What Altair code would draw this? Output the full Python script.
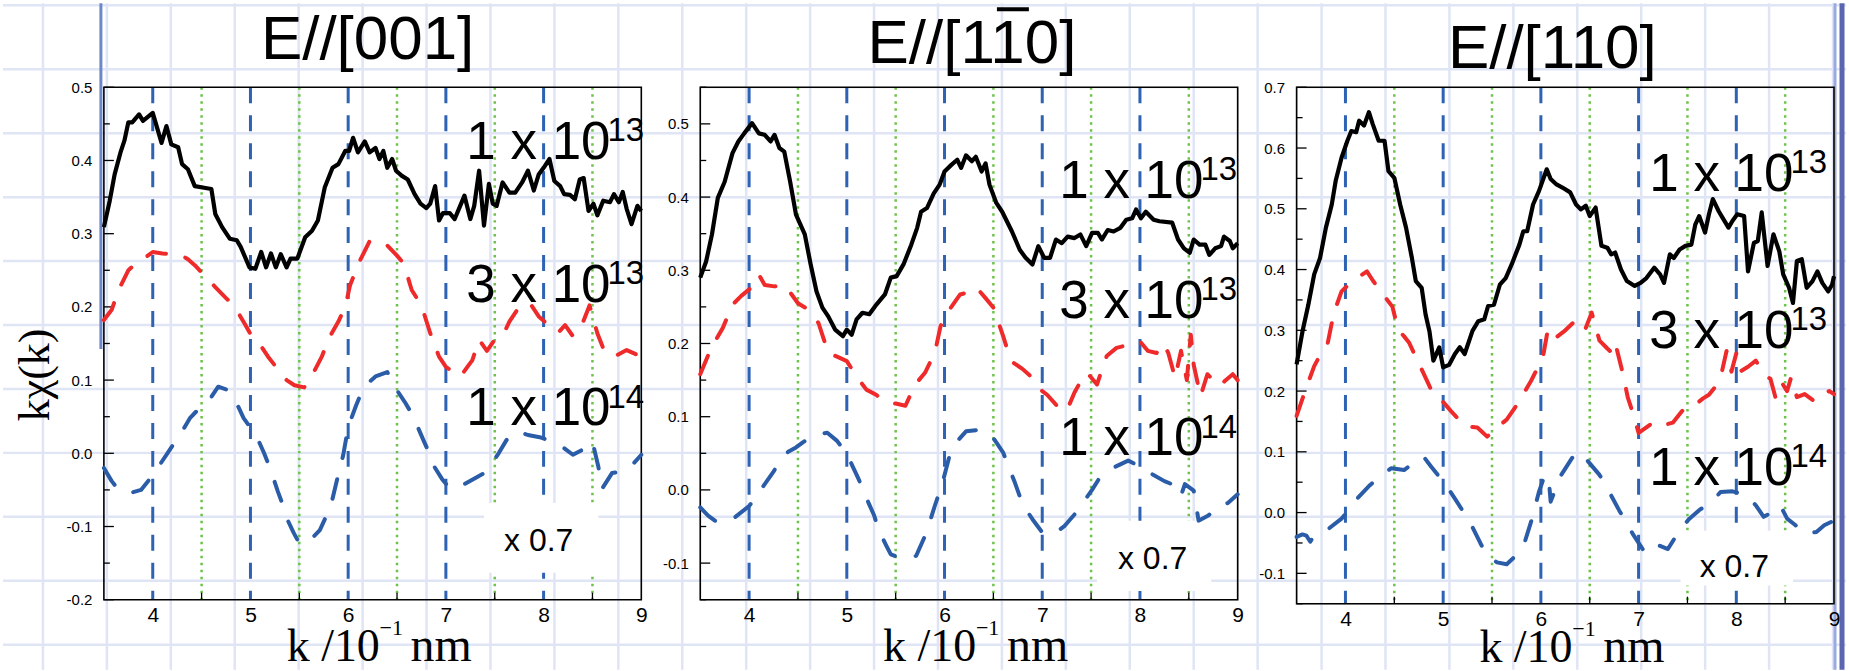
import altair as alt
import pandas as pd

# ------------------------------------------------------------------ traces
# (k / 10^-1 nm, k*chi(k)); black = 1 x 10^13, red = 3 x 10^13, blue = 1 x 10^14 (scaled x 0.7)
BLACK_001 = [(3.50,0.309),(3.56,0.345),(3.61,0.381),(3.67,0.411),(3.71,0.427),(3.75,0.452),(3.79,0.452),(3.86,0.463),(3.90,0.454),(4.00,0.465),
             (4.09,0.424),(4.14,0.447),(4.19,0.422),(4.26,0.418),(4.30,0.395),(4.36,0.388),(4.43,0.365),(4.51,0.363),(4.60,0.361),(4.64,0.327),
             (4.71,0.309),(4.79,0.293),(4.86,0.291),(4.90,0.282),(4.99,0.254),(5.05,0.252),(5.11,0.275),(5.16,0.254),(5.21,0.273),(5.26,0.254),
             (5.31,0.272),(5.37,0.254),(5.41,0.266),(5.48,0.266),(5.56,0.295),(5.63,0.304),(5.69,0.318),(5.76,0.363),(5.84,0.390),(5.90,0.395),
             (5.97,0.413),(6.01,0.413),(6.05,0.431),(6.10,0.411),(6.17,0.426),(6.22,0.411),(6.28,0.417),(6.32,0.402),(6.36,0.413),(6.40,0.390),
             (6.45,0.402),(6.49,0.386),(6.55,0.379),(6.61,0.374),(6.68,0.354),(6.74,0.341),(6.80,0.335),(6.84,0.341),(6.89,0.365),(6.93,0.318),
             (6.97,0.328),(7.04,0.328),(7.09,0.320),(7.14,0.336),(7.19,0.352),(7.25,0.320),(7.29,0.338),(7.34,0.386),(7.39,0.311),(7.44,0.368),
             (7.48,0.341),(7.52,0.338),(7.58,0.370),(7.65,0.356),(7.71,0.356),(7.78,0.370),(7.84,0.386),(7.90,0.359),(7.95,0.381),(8.00,0.390),
             (8.06,0.402),(8.11,0.372),(8.17,0.365),(8.21,0.354),(8.27,0.353),(8.32,0.347),(8.37,0.374),(8.41,0.376),(8.46,0.331),(8.51,0.341),
             (8.55,0.325),(8.61,0.345),(8.68,0.343),(8.72,0.354),(8.77,0.343),(8.81,0.357),(8.85,0.334),(8.90,0.313),(8.96,0.338),(9.00,0.331)]
RED_001 = [(3.50,0.182),(3.58,0.196),(3.65,0.223),(3.75,0.250),(3.85,0.262),(3.91,0.266),(4.00,0.275),(4.10,0.273),(4.20,0.272),(4.30,0.270),
           (4.36,0.265),(4.43,0.257),(4.55,0.240),(4.64,0.227),(4.75,0.212),(4.83,0.202),(4.95,0.175),(5.00,0.163),(5.10,0.148),(5.18,0.132),
           (5.25,0.120),(5.37,0.100),(5.45,0.093),(5.55,0.090),(5.66,0.114),(5.73,0.132),(5.81,0.159),(5.90,0.180),(5.97,0.200),(6.02,0.230),
           (6.12,0.263),(6.22,0.290),(6.30,0.290),(6.40,0.284),(6.50,0.270),(6.57,0.259),(6.65,0.223),(6.75,0.202),(6.84,0.164),(6.93,0.132),
           (7.00,0.118),(7.08,0.111),(7.15,0.105),(7.22,0.118),(7.27,0.127),(7.34,0.155),(7.42,0.140),(7.50,0.155),(7.58,0.160),(7.65,0.180),
           (7.75,0.200),(7.86,0.205),(7.95,0.187),(8.05,0.175),(8.15,0.165),(8.22,0.175),(8.30,0.160),(8.40,0.178),(8.47,0.202),(8.55,0.164),
           (8.62,0.140),(8.72,0.132),(8.85,0.141),(9.00,0.132)]
BLUE_001 = [(3.50,-0.020),(3.58,-0.038),(3.65,-0.050),(3.75,-0.055),(3.88,-0.050),(3.97,-0.035),(4.06,-0.018),(4.15,0.000),(4.23,0.016),(4.31,0.032),
            (4.38,0.048),(4.48,0.062),(4.59,0.075),(4.67,0.091),(4.78,0.086),(4.86,0.068),(4.93,0.048),(5.00,0.035),(5.08,0.018),(5.14,0.000),
            (5.20,-0.020),(5.28,-0.052),(5.33,-0.070),(5.38,-0.091),(5.44,-0.108),(5.50,-0.123),(5.60,-0.120),(5.71,-0.105),(5.82,-0.073),(5.89,-0.034),
            (5.95,-0.002),(6.00,0.036),(6.08,0.065),(6.16,0.091),(6.28,0.105),(6.40,0.111),(6.50,0.086),(6.58,0.070),(6.66,0.052),(6.77,0.018),
            (6.83,0.000),(6.88,-0.018),(6.96,-0.035),(7.04,-0.048),(7.15,-0.045),(7.27,-0.036),(7.38,-0.028),(7.46,-0.016),(7.54,0.000),(7.62,0.018),
            (7.74,0.030),(7.84,0.025),(7.96,0.022),(8.09,0.016),(8.20,0.008),(8.30,-0.002),(8.40,0.005),(8.50,0.016),(8.56,-0.018),(8.60,-0.048),
            (8.70,-0.027),(8.80,-0.025),(8.92,-0.014),(9.00,-0.002)]

BLACK_1B10 = [(3.50,0.290),(3.56,0.312),(3.62,0.349),(3.68,0.399),(3.75,0.421),(3.83,0.460),(3.89,0.476),(3.95,0.487),(4.03,0.501),(4.10,0.487),
              (4.16,0.485),(4.22,0.476),(4.26,0.485),(4.31,0.467),(4.36,0.462),(4.42,0.421),(4.48,0.376),(4.57,0.349),(4.63,0.308),(4.69,0.271),
              (4.75,0.249),(4.81,0.237),(4.88,0.219),(4.96,0.210),(5.00,0.219),(5.05,0.212),(5.10,0.233),(5.16,0.242),(5.23,0.240),(5.29,0.251),
              (5.39,0.267),(5.45,0.290),(5.51,0.292),(5.58,0.308),(5.66,0.335),(5.72,0.358),(5.76,0.380),(5.82,0.385),(5.89,0.405),(5.95,0.417),
              (6.00,0.435),(6.07,0.444),(6.13,0.451),(6.17,0.440),(6.22,0.457),(6.28,0.449),(6.32,0.455),(6.38,0.435),(6.42,0.446),(6.46,0.417),
              (6.53,0.392),(6.59,0.380),(6.69,0.353),(6.77,0.328),(6.83,0.317),(6.90,0.308),(6.96,0.333),(7.02,0.317),(7.08,0.317),(7.14,0.342),
              (7.20,0.337),(7.26,0.346),(7.33,0.344),(7.39,0.349),(7.45,0.333),(7.51,0.351),(7.57,0.351),(7.61,0.342),(7.67,0.355),(7.73,0.353),
              (7.80,0.358),(7.86,0.369),(7.92,0.371),(7.96,0.383),(8.01,0.371),(8.06,0.380),(8.14,0.369),(8.20,0.367),(8.33,0.365),(8.39,0.342),
              (8.45,0.330),(8.51,0.324),(8.55,0.342),(8.61,0.335),(8.67,0.335),(8.71,0.321),(8.77,0.330),(8.83,0.333),(8.86,0.346),(8.92,0.340),
              (8.95,0.330),(9.00,0.337)]
RED_1B10 = [(3.50,0.158),(3.60,0.190),(3.66,0.205),(3.73,0.221),(3.83,0.253),(3.92,0.265),(4.02,0.276),(4.10,0.294),(4.16,0.280),(4.26,0.278),
            (4.36,0.280),(4.43,0.268),(4.50,0.255),(4.61,0.246),(4.71,0.228),(4.81,0.187),(4.90,0.182),(5.00,0.176),(5.10,0.155),(5.20,0.137),
            (5.30,0.130),(5.38,0.121),(5.50,0.118),(5.60,0.115),(5.70,0.144),(5.80,0.160),(5.90,0.187),(5.96,0.224),(6.06,0.248),(6.16,0.267),
            (6.25,0.270),(6.33,0.276),(6.42,0.262),(6.50,0.249),(6.60,0.210),(6.68,0.176),(6.80,0.165),(6.90,0.153),(7.00,0.135),(7.05,0.130),
            (7.15,0.115),(7.25,0.108),(7.33,0.133),(7.40,0.150),(7.46,0.160),(7.56,0.144),(7.66,0.183),(7.76,0.194),(7.88,0.198),(8.00,0.203),
            (8.08,0.190),(8.17,0.187),(8.24,0.200),(8.29,0.187),(8.36,0.153),(8.42,0.190),(8.48,0.150),(8.52,0.212),(8.55,0.171),(8.62,0.128),
            (8.69,0.158),(8.75,0.150),(8.81,0.142),(8.88,0.150),(8.95,0.158),(9.00,0.150)]
BLUE_1B10 = [(3.50,-0.024),(3.58,-0.035),(3.65,-0.042),(3.73,-0.045),(3.85,-0.038),(4.00,-0.022),(4.08,-0.008),(4.16,0.008),(4.25,0.025),(4.33,0.042),
             (4.40,0.052),(4.48,0.058),(4.55,0.065),(4.67,0.075),(4.80,0.078),(4.90,0.067),(4.98,0.053),(5.05,0.035),(5.12,0.015),(5.22,-0.017),
             (5.28,-0.035),(5.33,-0.056),(5.40,-0.075),(5.45,-0.088),(5.58,-0.095),(5.71,-0.090),(5.81,-0.060),(5.90,-0.022),(5.98,0.010),(6.06,0.051),
             (6.14,0.068),(6.22,0.080),(6.35,0.082),(6.46,0.078),(6.53,0.065),(6.60,0.051),(6.72,0.010),(6.80,-0.020),(6.90,-0.040),(7.00,-0.058),
             (7.12,-0.060),(7.23,-0.049),(7.34,-0.032),(7.44,-0.013),(7.51,0.000),(7.58,0.015),(7.72,0.030),(7.88,0.040),(8.00,0.032),(8.13,0.021),
             (8.25,0.012),(8.38,0.005),(8.42,-0.008),(8.46,0.008),(8.55,-0.001),(8.60,-0.042),(8.70,-0.035),(8.82,-0.020),(8.90,-0.018),(9.00,-0.006)]

BLACK_110 = [(3.50,0.244),(3.56,0.298),(3.62,0.342),(3.68,0.392),(3.74,0.419),(3.80,0.469),(3.86,0.507),(3.90,0.546),(3.96,0.584),(4.02,0.612),
             (4.06,0.628),(4.11,0.626),(4.14,0.645),(4.19,0.637),(4.24,0.659),(4.28,0.639),(4.34,0.612),(4.40,0.612),(4.44,0.562),(4.50,0.551),
             (4.56,0.507),(4.62,0.469),(4.68,0.419),(4.72,0.381),(4.78,0.370),(4.82,0.326),(4.86,0.298),(4.90,0.250),(4.96,0.272),(5.00,0.239),
             (5.06,0.243),(5.12,0.261),(5.17,0.272),(5.22,0.261),(5.30,0.299),(5.36,0.315),(5.42,0.318),(5.46,0.340),(5.52,0.342),(5.58,0.375),
             (5.64,0.386),(5.70,0.408),(5.78,0.441),(5.82,0.463),(5.86,0.463),(5.92,0.507),(5.98,0.529),(6.06,0.565),(6.10,0.549),(6.16,0.540),
             (6.22,0.535),(6.30,0.527),(6.36,0.507),(6.41,0.499),(6.46,0.505),(6.50,0.488),(6.56,0.502),(6.62,0.439),(6.68,0.436),(6.72,0.425),
             (6.76,0.428),(6.82,0.400),(6.88,0.381),(6.96,0.373),(7.02,0.378),(7.08,0.386),(7.16,0.403),(7.22,0.392),(7.26,0.378),(7.32,0.425),
             (7.36,0.419),(7.42,0.433),(7.48,0.439),(7.54,0.441),(7.58,0.474),(7.62,0.488),(7.68,0.461),(7.72,0.491),(7.76,0.516),(7.82,0.496),
             (7.86,0.485),(7.92,0.469),(7.96,0.480),(8.01,0.491),(8.08,0.488),(8.12,0.397),(8.18,0.444),(8.22,0.447),(8.26,0.494),(8.32,0.406),
             (8.38,0.458),(8.44,0.430),(8.48,0.392),(8.54,0.370),(8.58,0.345),(8.62,0.414),(8.67,0.417),(8.72,0.370),(8.78,0.381),(8.83,0.397),
             (8.88,0.378),(8.94,0.364),(8.98,0.375),(9.00,0.389)]
RED_110 = [(3.50,0.159),(3.58,0.197),(3.68,0.241),(3.75,0.262),(3.82,0.280),(3.88,0.328),(3.96,0.364),(4.05,0.378),(4.12,0.386),(4.22,0.397),
           (4.28,0.382),(4.38,0.360),(4.48,0.339),(4.54,0.301),(4.60,0.290),(4.65,0.280),(4.77,0.239),(4.84,0.215),(4.90,0.194),(5.00,0.182),
           (5.08,0.167),(5.15,0.155),(5.22,0.142),(5.35,0.140),(5.45,0.125),(5.55,0.140),(5.65,0.153),(5.77,0.181),(5.90,0.217),(6.02,0.255),
           (6.07,0.300),(6.13,0.285),(6.25,0.300),(6.38,0.320),(6.46,0.304),(6.52,0.329),(6.60,0.283),(6.68,0.270),(6.72,0.264),(6.76,0.280),
           (6.84,0.228),(6.89,0.189),(6.95,0.160),(7.00,0.131),(7.12,0.145),(7.20,0.139),(7.28,0.145),(7.35,0.148),(7.46,0.170),(7.56,0.175),
           (7.66,0.188),(7.72,0.194),(7.78,0.206),(7.85,0.230),(7.90,0.266),(7.95,0.232),(8.00,0.262),(8.04,0.232),(8.12,0.240),(8.20,0.250),
           (8.28,0.228),(8.35,0.220),(8.40,0.190),(8.46,0.215),(8.52,0.200),(8.56,0.222),(8.62,0.190),(8.70,0.195),(8.80,0.183),(8.88,0.195),
           (8.95,0.200),(9.00,0.195)]
BLUE_110 = [(3.50,-0.040),(3.56,-0.036),(3.60,-0.038),(3.64,-0.048),(3.67,-0.040),(3.80,-0.030),(3.96,-0.010),(4.04,0.005),(4.12,0.023),(4.25,0.045),
            (4.37,0.062),(4.47,0.073),(4.60,0.070),(4.70,0.082),(4.80,0.092),(4.88,0.075),(4.96,0.059),(5.05,0.040),(5.14,0.018),(5.22,-0.002),
            (5.30,-0.024),(5.38,-0.050),(5.45,-0.071),(5.55,-0.082),(5.65,-0.085),(5.75,-0.070),(5.83,-0.051),(5.90,-0.015),(5.98,0.034),(6.04,0.062),
            (6.08,0.056),(6.10,0.018),(6.20,0.060),(6.32,0.090),(6.40,0.100),(6.50,0.081),(6.60,0.062),(6.68,0.040),(6.80,0.004),(6.87,-0.015),
            (6.94,-0.035),(7.05,-0.062),(7.12,-0.049),(7.22,-0.055),(7.30,-0.060),(7.42,-0.029),(7.52,-0.010),(7.62,0.004),(7.75,0.018),(7.84,0.034),
            (7.96,0.035),(8.10,0.029),(8.20,0.012),(8.28,-0.007),(8.36,0.000),(8.45,0.012),(8.52,-0.010),(8.60,-0.020),(8.70,-0.035),(8.82,-0.032),
            (8.90,-0.021),(9.00,-0.013)]

# ------------------------------------------------------------- panel texts
TITLES = ["E//[001]", "E//[110]", "E//[110]"]
DOSE_TEXT = ["1 x 10", "3 x 10", "1 x 10"]
DOSE_EXP = ["13", "13", "14"]
DOSE_K = [8.685, 8.65, 8.585]
DOSE_V = [[0.402, 0.207, 0.038], [0.399, 0.235, 0.047], [0.530, 0.271, 0.045]]
SCALE_TEXT = "x 0.7"
SCALE_K = [7.95, 8.13, 7.98]
SCALE_V = [-0.133, -0.108, -0.106]
BOX_K = [[7.39, 8.56], [7.56, 8.73], [7.43, 8.58]]
BOX_V = [[-0.163, -0.068], [-0.138, -0.042], [-0.120, -0.030]]

# ------------------------------------------------------------------- axes
K_DOMAIN = [3.5, 9.0]
Y_DOMAIN = [[-0.2, 0.5], [-0.15, 0.55], [-0.15, 0.7]]
Y_LABELS = [[-0.2, -0.1, 0.0, 0.1, 0.2, 0.3, 0.4, 0.5],
            [-0.1, 0.0, 0.1, 0.2, 0.3, 0.4, 0.5],
            [-0.1, 0.0, 0.1, 0.2, 0.3, 0.4, 0.5, 0.6, 0.7]]
Y_MINOR = [[-0.15, -0.05, 0.05, 0.15, 0.25, 0.35, 0.45],
           [-0.15, -0.05, 0.05, 0.15, 0.25, 0.35, 0.45, 0.55],
           [-0.15, -0.05, 0.05, 0.15, 0.25, 0.35, 0.45, 0.55, 0.65]]
X_LABELS = [4, 5, 6, 7, 8, 9]
DASHED_K = [4, 5, 6, 7, 8]
DOTTED_K = [4.5, 5.5, 6.5, 7.5, 8.5]

# ----------------------------------------------------------------- styling
SANS = "Liberation Sans"
SERIF = "Liberation Serif"
C_RED = "#ee2a2a"
C_BLUE = "#2a5ca8"
C_VBLUE = "#2e62b4"
C_GREEN = "#6cc24a"
C_GRID = "#dfe5f5"
PANEL_W = 538
PANEL_H = [513, 513, 517]
XTITLE_DY = [61, 61, 58]
GAP = 59
LEFT, TOP, PAGE_W, PAGE_H = 103, 86, 1849, 671
TITLE_X = [264, 272, 256]
TITLE_Y = [-28, -24, -19]

ONE = pd.DataFrame({"o": [0]})


def fixed_rule(x1, x2, y1, y2, color, width):
    return alt.Chart(ONE).mark_rule(color=color, strokeWidth=width).encode(
        x=alt.value(x1), x2=alt.value(x2), y=alt.value(y1), y2=alt.value(y2))


def fixed_text(txt, x, y, size, font=SANS, align="center", angle=0):
    return alt.Chart(ONE).mark_text(font=font, fontSize=size, align=align, baseline="alphabetic",
                                    color="black", angle=angle).encode(
        x=alt.value(x), y=alt.value(y), text=alt.value(txt))


def page_backdrop():
    """White slide with its faint squared paper and border strokes."""
    layers = [alt.Chart(ONE).mark_rect(color="white").encode(
        x=alt.value(-LEFT), x2=alt.value(PAGE_W - LEFT), y=alt.value(-TOP), y2=alt.value(PAGE_H - TOP))]
    for i in range(29):
        gx = 42 + 64 * i - LEFT
        layers.append(fixed_rule(gx, gx, -TOP + 2, PAGE_H - TOP - 2, C_GRID, 2.5))
    for j in range(11):
        gy = 4 + 64 * j - TOP
        layers.append(fixed_rule(-LEFT + 2, PAGE_W - LEFT - 2, gy, gy, C_GRID, 2.5))
    layers.append(fixed_rule(100 - LEFT, 100 - LEFT, -TOP + 2, 348 - TOP, "#6d87cc", 3))
    layers.append(fixed_rule(1836 - LEFT, 1836 - LEFT, -TOP + 2, PAGE_H - TOP - 2, "#9aaae0", 3))
    layers.append(fixed_rule(1843 - LEFT, 1843 - LEFT, -TOP + 2, PAGE_H - TOP - 2, "#5a66b0", 5))
    return layers


def panel(i, black, red, blue):
    dom = Y_DOMAIN[i]
    h = PANEL_H[i]

    x_axis = alt.Axis(values=X_LABELS, format="d", ticks=False, tickSize=0, domain=False, grid=False,
                      labelFont=SANS, labelFontSize=21, labelPadding=5, labelColor="black",
                      labelFlush=False, labelOverlap=False, title=None, zindex=1)
    y_axis = alt.Axis(values=Y_LABELS[i], ticks=False, tickSize=0, domain=False, grid=False,
                      labelExpr="(datum.value < 0 ? '-' : '') + format(abs(datum.value), '.1f')",
                      labelFont=SANS, labelFontSize=15, labelPadding=12, labelColor="black",
                      labelFlush=False, labelOverlap=False, title=None, zindex=1)

    def xq(field):
        return alt.X(f"{field}:Q", scale=alt.Scale(domain=K_DOMAIN, nice=False, zero=False), axis=x_axis)

    def yq(field):
        return alt.Y(f"{field}:Q", scale=alt.Scale(domain=dom, nice=False, zero=False), axis=y_axis)

    layers = page_backdrop() if i == 0 else []

    # reference positions: dashed at integer k, dotted at half-integer k
    layers.append(alt.Chart(pd.DataFrame({"k": DASHED_K})).mark_rule(
        color=C_VBLUE, strokeWidth=3, strokeDash=[16, 12]).encode(x=xq("k")))
    layers.append(alt.Chart(pd.DataFrame({"k": DOTTED_K})).mark_rule(
        color=C_GREEN, strokeWidth=2.5, strokeDash=[2.5, 4.5]).encode(x=xq("k")))

    # inward ticks
    layers.append(alt.Chart(pd.DataFrame({"t": Y_LABELS[i]})).mark_rule(color="black", strokeWidth=1.3).encode(
        y=yq("t"), x=alt.value(0), x2=alt.value(10)))
    layers.append(alt.Chart(pd.DataFrame({"t": Y_MINOR[i]})).mark_rule(color="black", strokeWidth=1.3).encode(
        y=yq("t"), x=alt.value(0), x2=alt.value(6)))
    layers.append(alt.Chart(pd.DataFrame({"t": DOTTED_K})).mark_rule(color="black", strokeWidth=1.3).encode(
        x=xq("t"), y=alt.value(h), y2=alt.value(h - 7)))

    # white patch behind the scale note
    layers.append(alt.Chart(pd.DataFrame({"k1": [BOX_K[i][0]], "k2": [BOX_K[i][1]],
                                          "v1": [BOX_V[i][0]], "v2": [BOX_V[i][1]]}))
                  .mark_rect(color="white").encode(x=xq("k1"), x2="k2", y=yq("v1"), y2="v2"))

    # frame
    layers.append(alt.Chart(ONE).mark_rect(fillOpacity=0, stroke="black", strokeWidth=1.6).encode(
        x=alt.value(0), x2=alt.value(PANEL_W), y=alt.value(0), y2=alt.value(h)))

    blue_df = pd.DataFrame(blue, columns=["k", "v"])
    red_df = pd.DataFrame(red, columns=["k", "v"])
    black_df = pd.DataFrame(black, columns=["k", "v"])
    layers.append(alt.Chart(blue_df).mark_line(color=C_BLUE, strokeWidth=4, strokeDash=[20, 22],
                                               strokeCap="round", strokeJoin="round").encode(
        x=xq("k"), y=yq("v")))
    layers.append(alt.Chart(red_df).mark_line(color=C_RED, strokeWidth=4, strokeDash=[20, 20],
                                              strokeCap="round", strokeJoin="round").encode(
        x=xq("k"), y=yq("v")))
    layers.append(alt.Chart(black_df).mark_line(color="black", strokeWidth=4.2,
                                                strokeJoin="round").encode(
        x=xq("k"), y=yq("v")))

    # dose labels with raised exponents
    dose = pd.DataFrame({"k": [DOSE_K[i]] * 3, "v": DOSE_V[i], "txt": DOSE_TEXT, "exp": DOSE_EXP})
    layers.append(alt.Chart(dose).mark_text(font=SANS, fontSize=53, align="right", baseline="alphabetic",
                                            color="black").encode(x=xq("k"), y=yq("v"), text="txt:N"))
    layers.append(alt.Chart(dose).mark_text(font=SANS, fontSize=33, align="left", baseline="alphabetic",
                                            color="black", dx=-3, dy=-18).encode(
        x=xq("k"), y=yq("v"), text="exp:N"))
    note = pd.DataFrame({"k": [SCALE_K[i]], "v": [SCALE_V[i]], "txt": [SCALE_TEXT]})
    layers.append(alt.Chart(note).mark_text(font=SANS, fontSize=32, align="center", baseline="alphabetic",
                                            color="black").encode(x=xq("k"), y=yq("v"), text="txt:N"))

    # panel title
    layers.append(fixed_text(TITLES[i], TITLE_X[i], TITLE_Y[i], 62))
    if i == 1:
        layers.append(fixed_rule(297, 329, -78, -78, "black", 4))

    # axis titles
    dy = XTITLE_DY[i]
    layers.append(fixed_text("k /10", 183, h + dy, 46, font=SERIF, align="left"))
    layers.append(fixed_text("\u22121", 276, h + dy - 26, 22, font=SERIF, align="left"))
    layers.append(fixed_text("nm", 307, h + dy, 48, font=SERIF, align="left"))
    if i == 0:
        layers.append(fixed_text("k\u03c7(k)", -55, 288, 44, font=SERIF, angle=270))

    return alt.layer(*layers).properties(width=PANEL_W, height=h)


chart = alt.hconcat(
    panel(0, BLACK_001, RED_001, BLUE_001),
    panel(1, BLACK_1B10, RED_1B10, BLUE_1B10),
    panel(2, BLACK_110, RED_110, BLUE_110),
    spacing=GAP, bounds="flush", padding=0,
).configure_view(stroke="transparent").configure(background="white")

chart.save("out.html", embed_options={"renderer": "svg", "actions": False})
